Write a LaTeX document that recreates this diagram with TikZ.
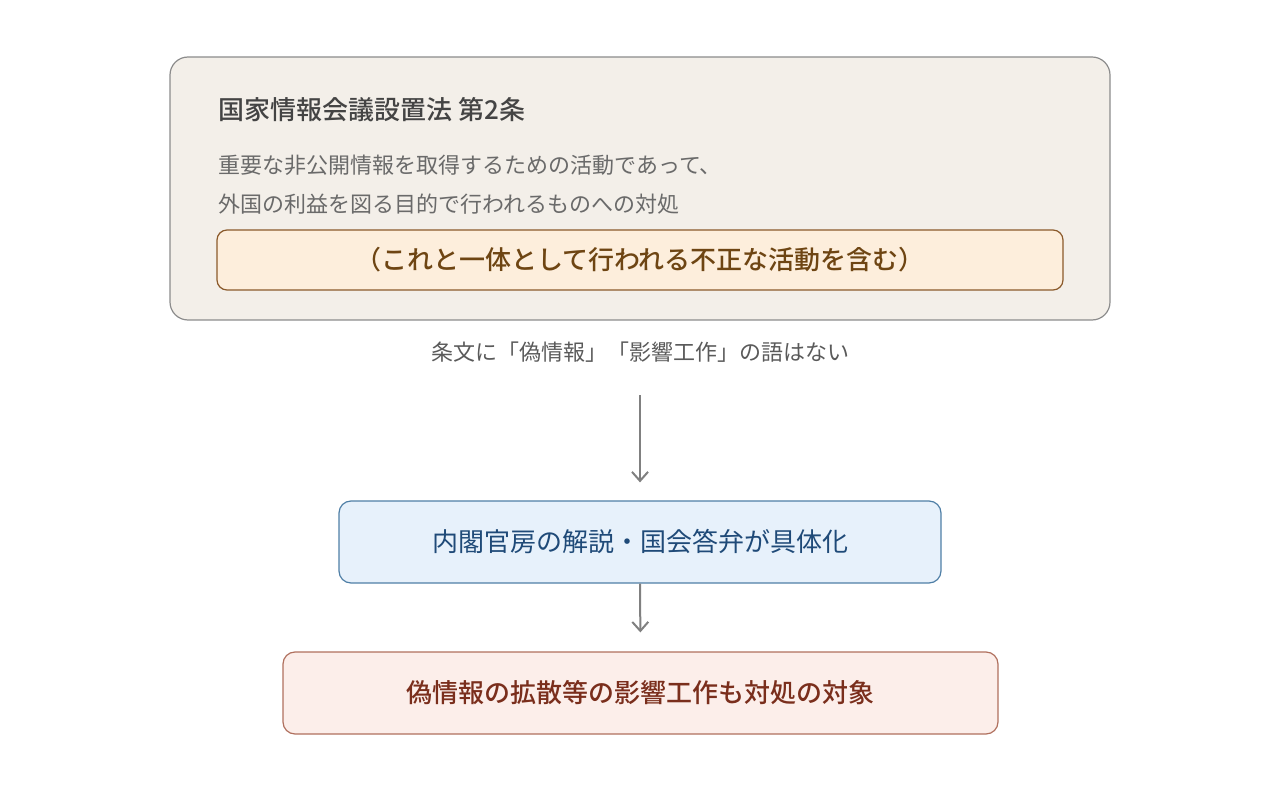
\documentclass[tikz,border=0pt]{standalone}
\usepackage{fontspec}
\setmainfont{Noto Sans CJK JP}[BoldFont={Noto Sans CJK JP Medium}]
\usetikzlibrary{arrows.meta}

\definecolor{lawfill}{HTML}{F3EFE9}
\definecolor{lawline}{HTML}{8C8C8C}
\definecolor{titlegray}{HTML}{444444}
\definecolor{bodygray}{HTML}{6A6A6A}
\definecolor{notefill}{HTML}{FDEEDC}
\definecolor{noteline}{HTML}{8B5A2B}
\definecolor{notetext}{HTML}{6E4513}
\definecolor{arrowgray}{HTML}{808080}
\definecolor{govfill}{HTML}{E7F1FB}
\definecolor{govline}{HTML}{4F7FA6}
\definecolor{govtext}{HTML}{1F4A78}
\definecolor{scopefill}{HTML}{FCEEEA}
\definecolor{scopeline}{HTML}{B0705E}
\definecolor{scopetext}{HTML}{7A2E1C}

\begin{document}
\begin{tikzpicture}[x=0.5pt, y=-0.5pt,
  box/.style={draw, line width=0.6pt, inner sep=0pt, align=center},
  flowarrow/.style={draw=arrowgray, line width=1pt, -{Straight Barb[length=4.5pt, width=8pt]}}]

\useasboundingbox (0,0) rectangle (1280,791);


% Draw Law Box

\node[box, draw=lawline, fill=lawfill, rounded corners=9pt,
  minimum width=470pt, minimum height=131.5pt] (law) at (640,188.5) {};

% Draw Law Title and Text

\node[anchor=west, inner sep=0pt, font=\fontsize{13}{15}\selectfont\bfseries, text=titlegray]
  (lawtitle) at (218,110) {国家情報会議設置法 第2条};

\node[anchor=west, inner sep=0pt, font=\fontsize{11}{13}\selectfont, text=bodygray]
  (lawline1) at (218,165) {重要な非公開情報を取得するための活動であって、};

\node[anchor=west, inner sep=0pt, font=\fontsize{11}{13}\selectfont, text=bodygray]
  (lawline2) at (218,204) {外国の利益を図る目的で行われるものへの対処};

% Draw Inner Note Box

\node[box, draw=noteline, fill=notefill, rounded corners=5pt,
  minimum width=423pt, minimum height=30pt,
  font=\fontsize{13}{15}\selectfont\bfseries, text=notetext]
  (note) at (640,260) {（これと一体として行われる不正な活動を含む）};

% Draw Caption

\node[inner sep=0pt, font=\fontsize{11}{13}\selectfont, text=bodygray!85!black]
  (caption) at (640,352) {条文に「偽情報」「影響工作」の語はない};

\coordinate (captionout) at (640,395);

% Draw Explanation Box

\node[box, draw=govline, fill=govfill, rounded corners=6pt,
  minimum width=301pt, minimum height=41pt,
  font=\fontsize{13}{15}\selectfont, text=govtext]
  (gov) at (640,542) {内閣官房の解説・国会答弁が具体化};

% Draw Scope Box

\node[box, draw=scopeline, fill=scopefill, rounded corners=6pt,
  minimum width=357.5pt, minimum height=41pt,
  font=\fontsize{13}{15}\selectfont\bfseries, text=scopetext]
  (scope) at (640.5,693) {偽情報の拡散等の影響工作も対処の対象};

% Draw Arrows

\draw[flowarrow, shorten >=9pt] (captionout) -- (gov.north);

\draw[flowarrow, shorten >=9.5pt] (gov.south) -- (scope.north);

\end{tikzpicture}
\end{document}
